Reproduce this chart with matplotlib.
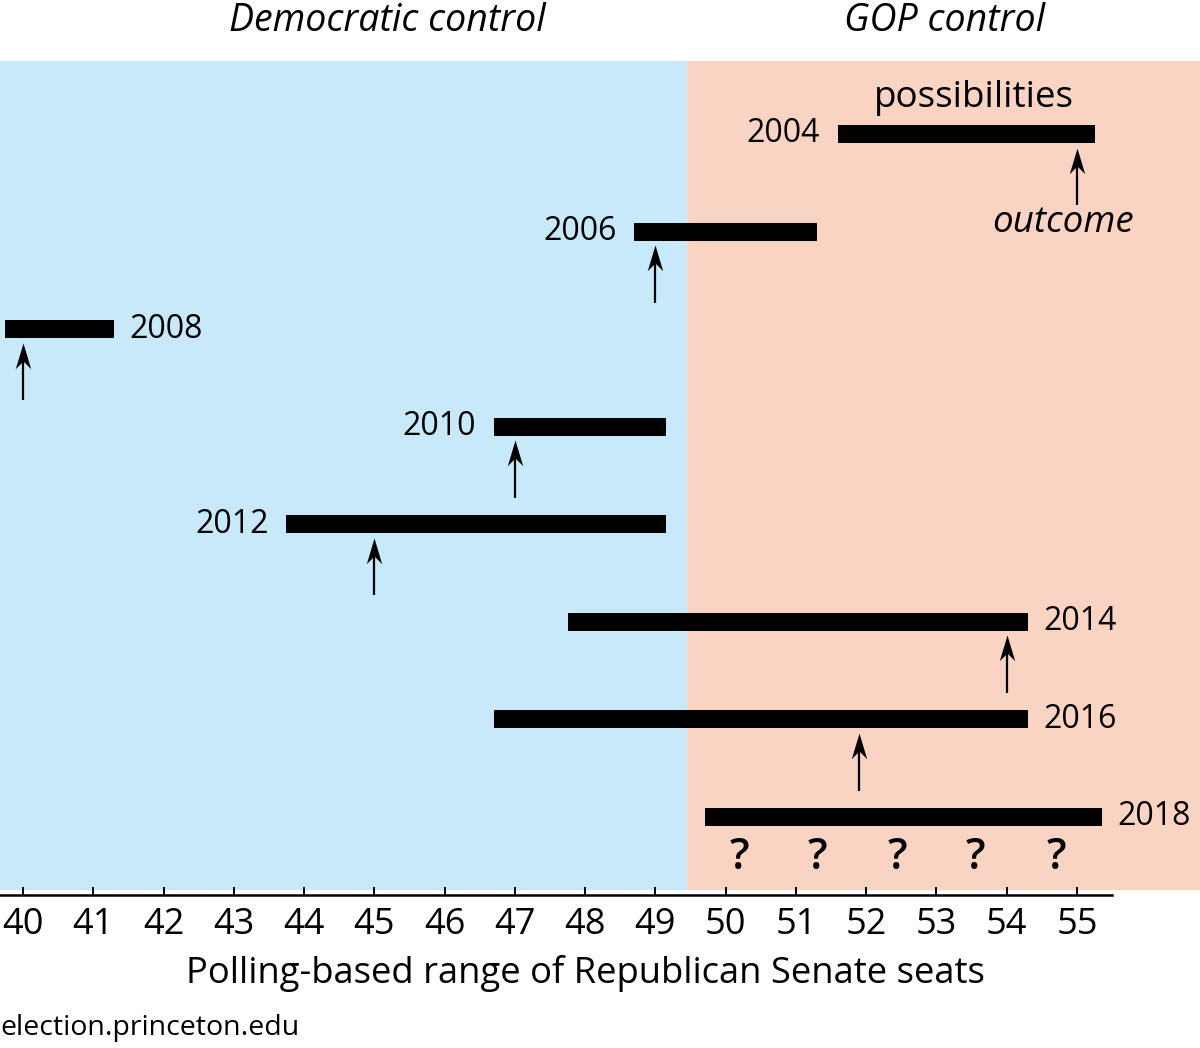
import matplotlib
matplotlib.use("Agg")
import matplotlib.pyplot as plt
import numpy as np
from matplotlib.path import Path

plt.rcParams['font.family'] = ['Open Sans', 'DejaVu Sans']

# polling-based ranges of Republican Senate seats, by election year
years = [2004, 2006, 2008, 2010, 2012, 2014, 2016, 2018]
range_low = [51.6, 48.7, 39.75, 46.7, 43.75, 47.75, 46.7, 49.7]
range_high = [55.25, 51.3, 41.3, 49.15, 49.15, 54.3, 54.3, 55.35]
outcomes = [55, 49, 40, 47, 45, 54, 51.9, None]
label_side = ['left', 'left', 'right', 'left', 'left', 'right', 'right', 'right']
unknowns = [50.2, 51.3, 52.45, 53.55, 54.7]   # the "?" marks for 2018
control_split = 49.45
ticks = list(range(40, 56))

blue = '#C7E9FA'
pink = '#FAD4C3'

fig = plt.figure(figsize=(12, 10.48), dpi=100)
ax = fig.add_axes([0, 0.146, 1, 0.796])
ax.set_xlim(39.673, 56.75)
rows = np.arange(len(years))
ax.set_ylim(7.8, -0.75)

ax.axvspan(39.673, control_split, ymin=0.006, ymax=1, color=blue, lw=0, zorder=0)
ax.axvspan(control_split, 56.75, ymin=0.006, ymax=1, color=pink, lw=0, zorder=0)

lo = np.array(range_low)
hi = np.array(range_high)
ax.barh(rows, hi - lo, left=lo, height=0.185, color='black', zorder=3)

# arrowhead shaped like a stealth arrow, tip at the origin
head = Path([(0, 0), (-0.3, -1), (0, -0.7), (0.3, -1), (0, 0)],
            [Path.MOVETO, Path.LINETO, Path.LINETO, Path.LINETO, Path.CLOSEPOLY])

for r, yr, a, b, out, side in zip(rows, years, range_low, range_high, outcomes, label_side):
    if side == 'left':
        ax.annotate(str(yr), xy=(a, r), xytext=(-13, 0), textcoords='offset points',
                    ha='right', va='center', fontsize=23)
    else:
        ax.annotate(str(yr), xy=(b, r), xytext=(11, 0), textcoords='offset points',
                    ha='left', va='center', fontsize=23)
    if out is not None:
        ax.vlines(out, r + 0.3, r + 0.73, color='black', lw=1.6, zorder=3)
        ax.plot(out, r + 0.14, marker=head, markersize=37, color='black',
                markeredgewidth=0, zorder=4)

for q in unknowns:
    ax.text(q, rows[-1] + 0.42, '?', ha='center', va='center', fontsize=31,
            fontweight='semibold')

ax.text((range_low[0] + range_high[0]) / 2 + 0.1, -0.28, 'possibilities', ha='center',
        va='baseline', fontsize=26.5)
ax.text(outcomes[0] - 0.2, 1.0, 'outcome', ha='center', va='baseline',
        fontsize=26.5, style='italic')

ax.set_xticks(ticks)
ax.set_xticklabels([str(t) for t in ticks], fontsize=26)
ax.tick_params(axis='x', direction='in', length=6, width=1.4, pad=9)
ax.set_yticks([])
for s in ['top', 'left', 'right']:
    ax.spines[s].set_visible(False)
ax.spines['bottom'].set_linewidth(1.8)
ax.spines['bottom'].set_bounds(39.673, 55.5)

fig.text(387 / 1200, 1 - 21 / 1048, 'Democratic control', ha='center', va='center',
         fontsize=27, style='italic')
fig.text(945 / 1200, 1 - 21 / 1048, 'GOP control', ha='center', va='center',
         fontsize=27, style='italic')
fig.text(585 / 1200, 1 - 973 / 1048, 'Polling-based range of Republican Senate seats',
         ha='center', va='center', fontsize=26.2)
fig.text(0.0, 1 - 1028 / 1048, 'election.princeton.edu', ha='left', va='center',
         fontsize=20.5)

fig.savefig('out.png', dpi=100)
